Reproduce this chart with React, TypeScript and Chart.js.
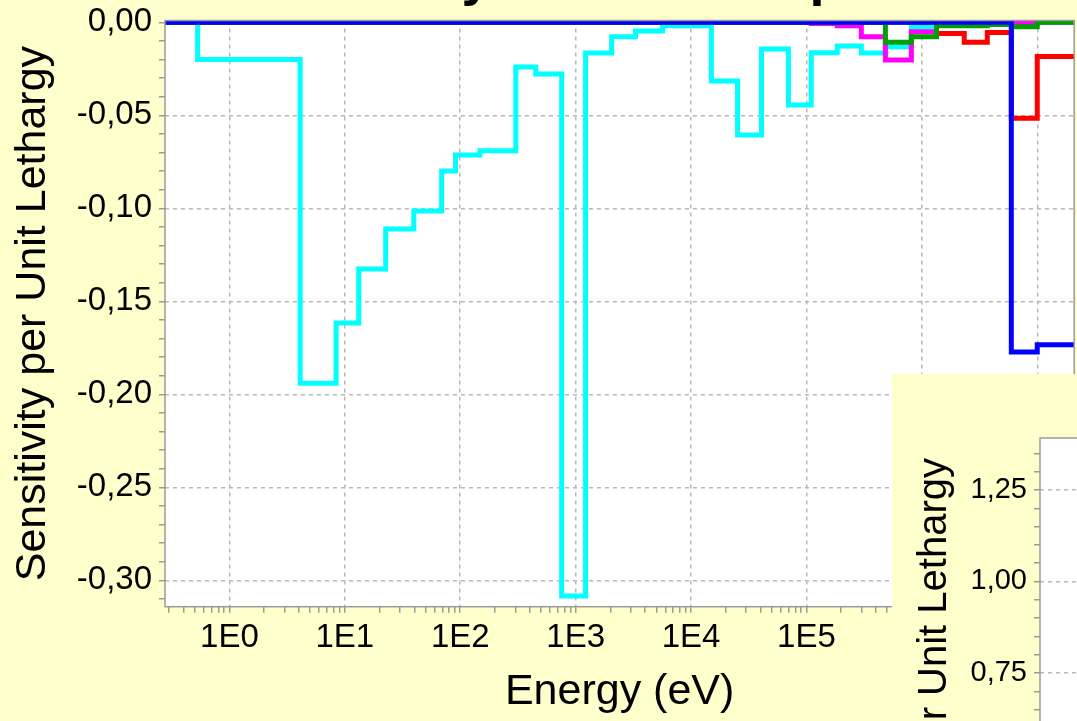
import { useEffect, useRef } from 'react';
import { Chart, registerables } from 'chart.js';

Chart.register(...registerables);

// ---------- data ----------
// energy group boundaries (eV), ascending
const energyBounds = [
  0.1, 0.53, 4.1, 8.4, 13.2, 22.6, 39.6, 69, 91, 148, 303, 451, 757, 1220, 2050, 3300, 5660,
  15000, 25300, 40800, 69800, 1.1e5, 1.85e5, 2.99e5, 4.83e5, 8.11e5, 1.34e6, 2.33e6, 3.69e6,
  5.96e6, 1.0e7, 2.1e7,
];

const cyanValues = [
  0, -0.02, -0.194, -0.1616, -0.1326, -0.1111, -0.1014, -0.0799, -0.0713, -0.069, -0.024,
  -0.0277, -0.3085, -0.0165, -0.0078, -0.0046, -0.0018, -0.0315, -0.0605, -0.0143, -0.0444,
  -0.0163, -0.0127, -0.0165, -0.0131, -0.0025, 0, 0, 0, 0, 0,
];
const magentaValues = [
  0, 0, 0, 0, 0, 0, 0, 0, 0, 0, 0, 0, 0, 0, 0, 0, 0, 0, 0, 0, 0,
  -0.0006, -0.0018, -0.0077, -0.0202, -0.005, 0, 0, 0, -0.0005, 0,
];
const greenValues = [
  0, 0, 0, 0, 0, 0, 0, 0, 0, 0, 0, 0, 0, 0, 0, 0, 0, 0, 0, 0, 0, 0, 0, 0,
  -0.0107, -0.0077, -0.0018, -0.0018, -0.0012, -0.0023, 0,
];
const redValues = [
  0, 0, 0, 0, 0, 0, 0, 0, 0, 0, 0, 0, 0, 0, 0, 0, 0, 0, 0, 0, 0, 0, 0, 0, 0, 0,
  -0.006, -0.0107, -0.0054, -0.0515, -0.0184,
];
const blueValues = [
  0, 0, 0, 0, 0, 0, 0, 0, 0, 0, 0, 0, 0, 0, 0, 0, 0, 0, 0, 0, 0, 0, 0, 0, 0, 0, 0, 0, 0,
  -0.1772, -0.1734,
];

const xDecadeValues = [1, 10, 100, 1e3, 1e4, 1e5, 1e6, 1e7];
const xDecadeLabels = ['1E0', '1E1', '1E2', '1E3', '1E4', '1E5', '1E6', '1E7'];
const xMinorFactors = [1, 2, 3, 4, 5, 6, 7, 8, 9];
const xTickBases = [0.1, 1, 10, 100, 1e3, 1e4, 1e5, 1e6, 1e7];

const mainYTickValues = [0, -0.05, -0.1, -0.15, -0.2, -0.25, -0.3];
const mainYTickLabels = ['0,00', '-0,05', '-0,10', '-0,15', '-0,20', '-0,25', '-0,30'];
const mainYMinorStep = 0.01;

const insetYTickValues = [1.25, 1.0, 0.75, 0.5, 0.25, 0];
const insetYTickLabels = ['1,25', '1,00', '0,75', '0,50', '0,25', '0,00'];
const insetYMinorStep = 0.05;

const chartTitle = 'Sensitivity Profile Comparison';
const xTitle = 'Energy (eV)';
const yTitle = 'Sensitivity per Unit Lethargy';

// ---------- styling ----------
const BG = '#FFFFCC';
const GRID = '#b8b8b8';
const FRAME = '#9a9a9a';
const FONT = "'Liberation Sans', Arial, sans-serif";
const X_MIN = 0.2764;
const X_MAX = 2.09e7;

function stepPoints(values: number[]) {
  const pts = values.map((v, i) => ({ x: energyBounds[i], y: v }));
  pts.push({ x: energyBounds[values.length], y: values[values.length - 1] });
  return pts;
}

function near(a: number, b: number) {
  return Math.abs(a - b) < 1e-9 * Math.max(1, Math.abs(b));
}

function xTickList() {
  const out: number[] = [];
  xTickBases.forEach((b) =>
    xMinorFactors.forEach((f) => {
      const v = b * f;
      if (v >= X_MIN && v <= X_MAX) out.push(v);
    })
  );
  return out;
}

function yTickList(min: number, max: number, step: number) {
  const out: number[] = [];
  const k0 = Math.ceil(min / step - 1e-9);
  const k1 = Math.floor(max / step + 1e-9);
  for (let k = k0; k <= k1; k++) out.push(Math.round(k * step * 1000) / 1000);
  return out;
}

const isXMajor = (v: number) => xDecadeValues.some((d) => Math.abs(d - v) / d < 1e-9);

const plotBgPlugin = {
  id: 'plotBg',
  beforeDraw(chart: any) {
    const { ctx, chartArea: a } = chart;
    ctx.save();
    ctx.fillStyle = '#ffffff';
    ctx.fillRect(a.left, a.top, a.right - a.left, a.bottom - a.top);
    ctx.restore();
  },
};

const framePlugin = {
  id: 'frame',
  afterDatasetsDraw(chart: any) {
    const { ctx, chartArea: a } = chart;
    ctx.save();
    ctx.strokeStyle = FRAME;
    ctx.lineWidth = 1.5;
    ctx.strokeRect(a.left, a.top, a.right - a.left, a.bottom - a.top);
    ctx.restore();
  },
};

function makeOptions(cfg: {
  yMin: number;
  yMax: number;
  yMinor: number;
  yVals: number[];
  yLabels: string[];
  yWidth: number;
  yTitlePad: number;
  xHeight: number;
  padTop: number;
  padRight: number;
  tickSize: number;
  titleSize: number;
}) {
  const yTicks = yTickList(cfg.yMin, cfg.yMax, cfg.yMinor);
  const xTicks = xTickList();
  const yLabelFor = (v: number) => {
    const i = cfg.yVals.findIndex((t) => near(t, v));
    return i >= 0 ? cfg.yLabels[i] : '';
  };
  return {
    responsive: false,
    animation: false,
    devicePixelRatio: 1,
    layout: { padding: { top: cfg.padTop, right: cfg.padRight, left: 0, bottom: 0 } },
    plugins: { legend: { display: false }, tooltip: { enabled: false }, title: { display: false } },
    scales: {
      x: {
        type: 'logarithmic',
        min: X_MIN,
        max: X_MAX,
        afterBuildTicks: (s: any) => {
          s.ticks = xTicks.map((v) => ({ value: v, major: isXMajor(v) }));
        },
        afterFit: (s: any) => {
          s.height = cfg.xHeight;
        },
        ticks: {
          autoSkip: false,
          maxRotation: 0,
          minRotation: 0,
          padding: 5,
          color: '#000',
          font: { family: FONT, size: cfg.tickSize },
          callback: (v: any) => {
            const i = xDecadeValues.findIndex((d) => Math.abs(d - v) / d < 1e-9);
            return i >= 0 ? xDecadeLabels[i] : '';
          },
        },
        grid: {
          color: (c: any) => (c.tick && isXMajor(c.tick.value) ? GRID : 'rgba(0,0,0,0)'),
          lineWidth: 1.5,
          borderDash: [4, 4],
          tickColor: FRAME,
          tickLength: 6,
          tickWidth: 1.5,
        },
        border: { display: false, dash: [4, 4] },
        title: {
          display: true,
          text: xTitle,
          color: '#000',
          font: { family: FONT, size: cfg.titleSize },
          padding: { top: 0, bottom: 3 },
        },
      },
      y: {
        type: 'linear',
        min: cfg.yMin,
        max: cfg.yMax,
        afterBuildTicks: (s: any) => {
          s.ticks = yTicks.map((v) => ({ value: v }));
        },
        afterFit: (s: any) => {
          s.width = cfg.yWidth;
        },
        ticks: {
          autoSkip: false,
          padding: 7,
          color: '#000',
          font: { family: FONT, size: cfg.tickSize },
          callback: (v: any) => yLabelFor(Number(v)),
        },
        grid: {
          color: (c: any) =>
            c.tick && cfg.yVals.some((t) => near(t, c.tick.value)) ? GRID : 'rgba(0,0,0,0)',
          lineWidth: 1.5,
          borderDash: [4, 4],
          tickColor: FRAME,
          tickLength: 6,
          tickWidth: 1.5,
        },
        border: { display: false, dash: [4, 4] },
        title: {
          display: true,
          text: yTitle,
          color: '#000',
          font: { family: FONT, size: cfg.titleSize },
          padding: { top: cfg.yTitlePad, bottom: 0 },
        },
      },
    },
  } as any;
}

const seriesList = [
  { label: 'blue', color: '#0000FF', values: blueValues },
  { label: 'green', color: '#00A000', values: greenValues },
  { label: 'red', color: '#FF0000', values: redValues },
  { label: 'magenta', color: '#FF00FF', values: magentaValues },
  { label: 'cyan', color: '#00FFFF', values: cyanValues },
];

export default function App() {
  const mainRef = useRef<HTMLCanvasElement>(null);
  const insetRef = useRef<HTMLCanvasElement>(null);

  useEffect(() => {
    const titlePlugin = {
      id: 'customTitle',
      afterDraw(chart: any) {
        const { ctx } = chart;
        ctx.save();
        ctx.fillStyle = '#000';
        ctx.font = `bold 54px ${FONT}`;
        ctx.textAlign = 'center';
        ctx.textBaseline = 'alphabetic';
        ctx.fillText(chartTitle, 613, 45);
        ctx.restore();
      },
    };

    const main = new Chart(mainRef.current as HTMLCanvasElement, {
      type: 'line',
      data: {
        datasets: seriesList.map((s) => ({
          label: s.label,
          data: stepPoints(s.values),
          borderColor: s.color,
          backgroundColor: s.color,
          borderWidth: 5,
          pointRadius: 0,
          stepped: 'before',
          fill: false,
          clip: 0,
        })),
      },
      options: makeOptions({
        yMin: -0.3142,
        yMax: 0.001,
        yMinor: mainYMinorStep,
        yVals: mainYTickValues,
        yLabels: mainYTickLabels,
        yWidth: 165,
        yTitlePad: 7.2,
        xHeight: 114.3,
        padTop: 70.5,
        padRight: 2,
        tickSize: 33,
        titleSize: 43,
      }),
      plugins: [plotBgPlugin, framePlugin, titlePlugin],
    } as any);

    const inset = new Chart(insetRef.current as HTMLCanvasElement, {
      type: 'line',
      data: { datasets: [] },
      options: makeOptions({
        yMin: -0.078,
        yMax: 1.392,
        yMinor: insetYMinorStep,
        yVals: insetYTickValues,
        yLabels: insetYTickLabels,
        yWidth: 148,
        yTitlePad: 19,
        xHeight: 120,
        padTop: 64,
        padRight: 2,
        tickSize: 29,
        titleSize: 40,
      }),
      plugins: [plotBgPlugin, framePlugin],
    } as any);

    return () => {
      main.destroy();
      inset.destroy();
    };
  }, []);

  return (
    <div
      style={{
        position: 'fixed',
        left: 0,
        top: 0,
        width: 1077,
        height: 721,
        overflow: 'hidden',
        background: BG,
      }}
    >
      <canvas
        ref={mainRef}
        width={1077}
        height={771}
        style={{ position: 'absolute', left: 0, top: -50, width: 1077, height: 771 }}
      />
      <canvas
        ref={insetRef}
        width={1100}
        height={722}
        style={{
          position: 'absolute',
          left: 892,
          top: 374,
          width: 1100,
          height: 722,
          background: BG,
        }}
      />
    </div>
  );
}
